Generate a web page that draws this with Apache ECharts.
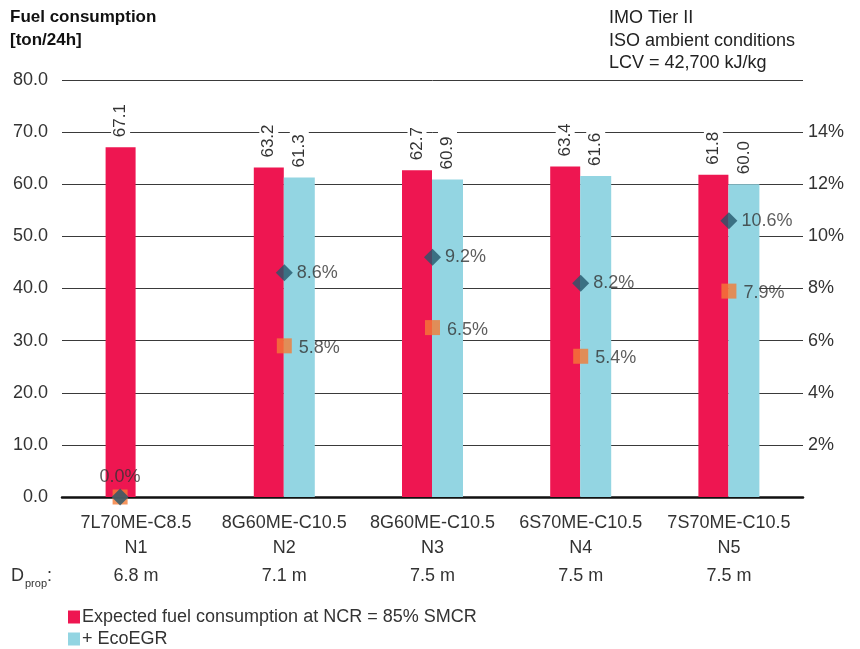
<!DOCTYPE html>
<html>
<head>
<meta charset="utf-8">
<script src="https://cdn.jsdelivr.net/npm/echarts@6/dist/echarts.min.js"></script>
<style>
html,body{margin:0;padding:0;background:#fff;}
#chart{width:860px;height:649px;}
</style>
</head>
<body>
<div id="chart"></div>
<script>
const engines = ['7L70ME-C8.5', '8G60ME-C10.5', '8G60ME-C10.5', '6S70ME-C10.5', '7S70ME-C10.5'];
const variants = ['N1', 'N2', 'N3', 'N4', 'N5'];
const propDiameters = ['6.8 m', '7.1 m', '7.5 m', '7.5 m', '7.5 m'];
const fuelExpected = [67.1, 63.2, 62.7, 63.4, 61.8];
const fuelEcoEGR = [null, 61.3, 60.9, 61.6, 60.0];
const savingDiamond = [0.0, 8.6, 9.2, 8.2, 10.6];
const savingSquare = [0.0, 5.8, 6.5, 5.4, 7.9];
const seriesNames = ['Expected fuel consumption at NCR = 85% SMCR', '+ EcoEGR'];

const FONT = 'Liberation Sans, Arial, sans-serif';
const TXT = '#333';
const RED = '#ee1651';
const BLUE = '#93d5e2';
const DIAMOND = '#24566b';
const SQUARE = '#f47b36';

const categories = engines.map((e, i) => e + '|' + variants[i] + '|' + propDiameters[i]);

const chart = echarts.init(document.getElementById('chart'), null, {renderer: 'canvas'});

const barLabel = {
  show: true,
  position: 'top',
  rotate: 90,
  align: 'left',
  verticalAlign: 'middle',
  distance: 4,
  fontFamily: FONT,
  fontSize: 17,
  color: TXT,
  backgroundColor: '#fff',
  padding: [1, 6, 1, 6],
  formatter: p => p.value == null ? '' : Number(p.value).toFixed(1)
};

function markerData(arr, firstOffset) {
  return arr.map((v, i) => {
    const d = {value: v};
    if (i === 0) d.symbolOffset = firstOffset;
    return d;
  });
}

const option = {
  animation: false,
  textStyle: {fontFamily: FONT},
  grid: {left: 62, right: 57, top: 80, bottom: 152, containLabel: false},
  legend: {
    data: seriesNames,
    orient: 'vertical',
    left: 63,
    top: 603,
    height: 80,
    icon: 'rect',
    itemWidth: 12,
    itemHeight: 13,
    itemGap: 4,
    selectedMode: false,
    textStyle: {fontFamily: FONT, fontSize: 18, color: TXT, padding: [0, 0, 0, -3]}
  },
  graphic: [
    {type: 'text', left: 10, top: 6, style: {text: 'Fuel consumption\n[ton/24h]', font: 'bold 17px ' + FONT, fill: '#111', lineHeight: 23}},
    {type: 'text', left: 609, top: 7, style: {text: 'IMO Tier II\nISO ambient conditions\nLCV = 42,700 kJ/kg', font: '18px ' + FONT, fill: '#222', lineHeight: 22.5}},
    {type: 'text', left: 11, top: 567, style: {text: 'D', font: '18px ' + FONT, fill: TXT}},
    {type: 'text', left: 25, top: 578, style: {text: 'prop', font: '11px ' + FONT, fill: TXT}},
    {type: 'text', left: 47, top: 567, style: {text: ':', font: '18px ' + FONT, fill: TXT}}
  ],
  xAxis: {
    type: 'category',
    data: categories,
    axisLine: {show: true, lineStyle: {color: '#111', width: 2.5}},
    axisTick: {show: false},
    axisLabel: {
      margin: 14,
      interval: 0,
      formatter: v => {
        const parts = v.split('|');
        return '{a|' + parts[0] + '}\n{b|' + parts[1] + '}\n{c|' + parts[2] + '}';
      },
      rich: {
        a: {fontFamily: FONT, fontSize: 18, color: TXT, lineHeight: 25},
        b: {fontFamily: FONT, fontSize: 18, color: TXT, lineHeight: 25},
        c: {fontFamily: FONT, fontSize: 18, color: TXT, lineHeight: 31}
      }
    }
  },
  yAxis: [
    {
      type: 'value',
      min: 0, max: 80, interval: 10,
      axisLine: {show: false},
      axisTick: {show: false},
      splitLine: {show: true, lineStyle: {color: '#3a3a3a', width: 1}},
      axisLabel: {margin: 14, fontFamily: FONT, fontSize: 18, color: TXT, formatter: v => v.toFixed(1)}
    },
    {
      type: 'value',
      min: 0, max: 16, interval: 2,
      position: 'right',
      axisLine: {show: false},
      axisTick: {show: false},
      splitLine: {show: false},
      axisLabel: {margin: 5, fontFamily: FONT, fontSize: 18, color: TXT, formatter: v => (v === 0 || v === 16) ? '' : v + '%'}
    }
  ],
  series: [
    {
      name: seriesNames[0], type: 'bar', data: fuelExpected,
      barWidth: 30, barGap: '0%',
      itemStyle: {color: RED},
      label: barLabel, z: 2
    },
    {
      name: seriesNames[1], type: 'bar', data: fuelEcoEGR,
      barWidth: 31, barGap: '0%',
      itemStyle: {color: BLUE},
      label: barLabel, z: 2
    },
    {
      name: 'square', type: 'scatter', yAxisIndex: 1,
      data: markerData(savingSquare, [-16, 0]),
      symbol: 'rect', symbolSize: 15,
      itemStyle: {color: SQUARE},
      label: {
        show: true, position: 'right', distance: 7, offset: [0, 2],
        fontFamily: FONT, fontSize: 18, color: TXT,
        formatter: p => p.dataIndex === 0 ? '' : Number(p.value).toFixed(1) + '%'
      },
      z: 5
    },
    {
      name: 'diamond', type: 'scatter', yAxisIndex: 1,
      data: markerData(savingDiamond, [-16, 0]),
      symbol: 'diamond', symbolSize: [17, 17],
      itemStyle: {color: DIAMOND},
      label: {
        show: true, position: 'right', distance: 4,
        fontFamily: FONT, fontSize: 18, color: TXT,
        formatter: p => Number(p.value).toFixed(1) + '%'
      },
      z: 6
    }
  ]
};

// The first marker's label sits above the markers
option.series[3].data[0].label = {position: 'top', distance: 2};

chart.setOption(option);
</script>
</body>
</html>
